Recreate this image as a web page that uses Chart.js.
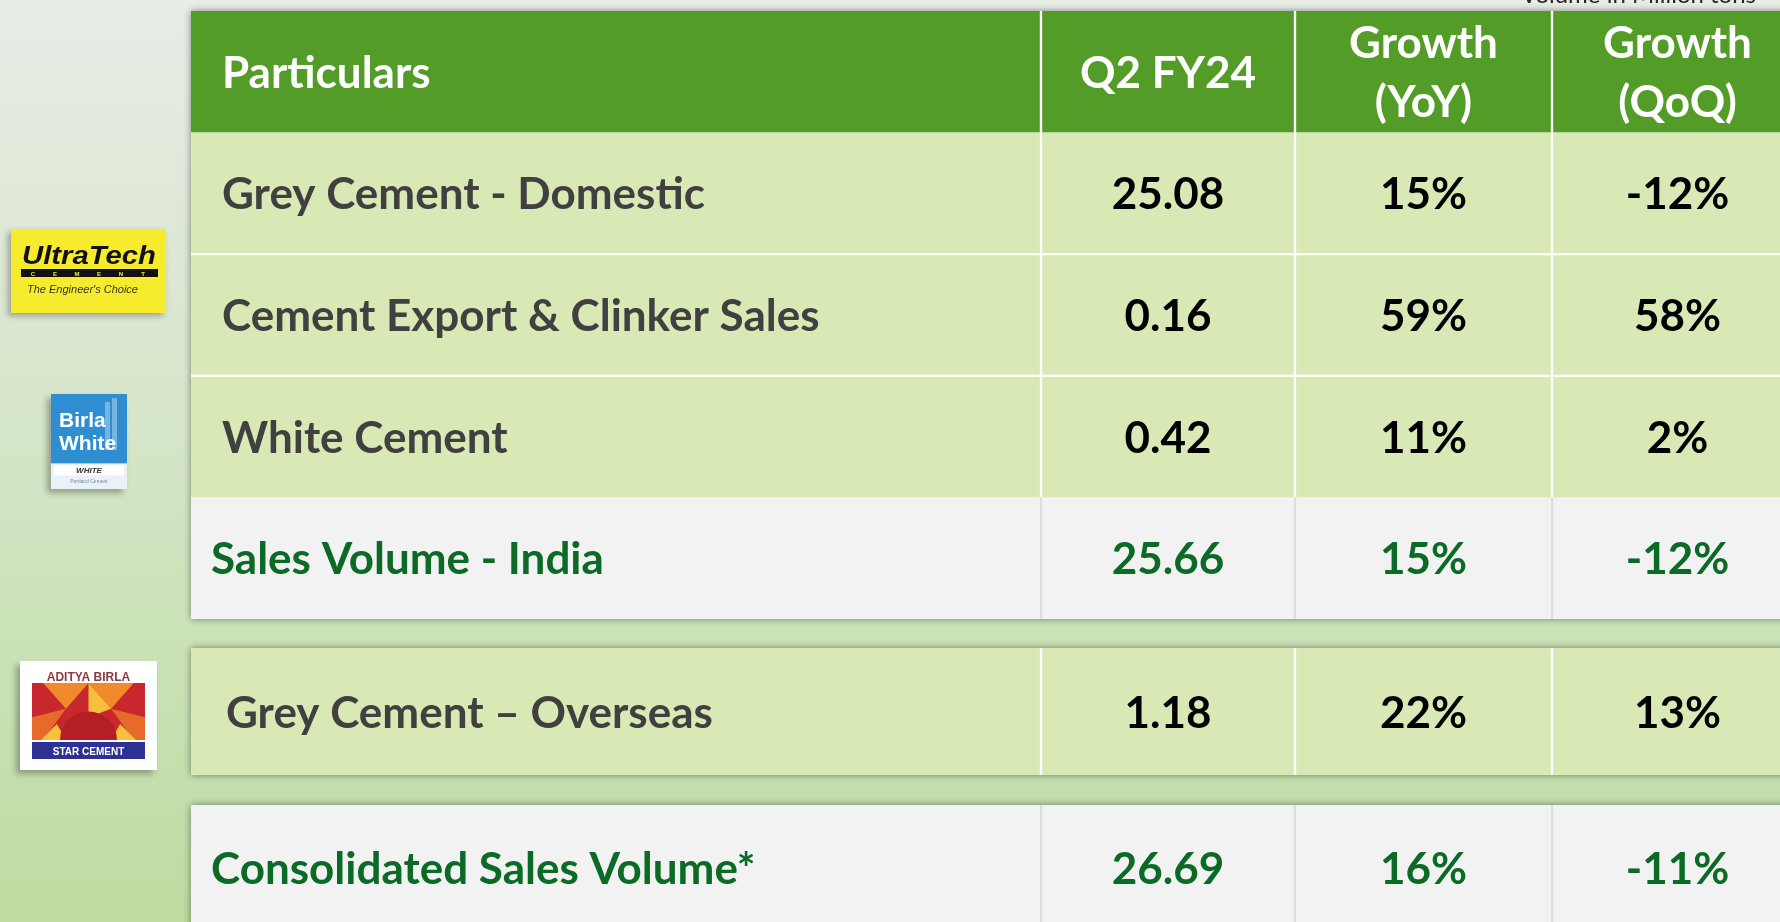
<!DOCTYPE html>
<html>
<head>
<meta charset="utf-8">
<title>Sales Volume - Q2 FY24</title>
<script src="https://cdn.jsdelivr.net/npm/chart.js@4.4.1/dist/chart.umd.min.js"></script>
<style>
    html, body {
        margin: 0;
        padding: 0;
        width: 1780px;
        height: 922px;
        overflow: hidden;
    }
    body {
        background: linear-gradient(180deg, #E8EDE6 0%, #DFE8D8 22%, #D4E5C6 50%, #C9E1B3 75%, #BEDBA0 100%);
    }
    #wrap {
        position: absolute;
        left: 0;
        top: 0;
        width: 1803px;
        height: 931px;
    }
</style>
</head>
<body>
<div id="wrap"><canvas id="volume-table"></canvas></div>
<script>
// Table data
const columns = ["Particulars", "Q2 FY24", "Growth\n(YoY)", "Growth\n(QoQ)"];
const particulars = [
    "Grey Cement - Domestic",
    "Cement Export & Clinker Sales",
    "White Cement",
    "Sales Volume - India",
    "Grey Cement \u2013 Overseas",
    "Consolidated Sales Volume*",
];
const volumeQ2FY24 = [25.08, 0.16, 0.42, 25.66, 1.18, 26.69];
const growthYoY = [15, 59, 11, 15, 22, 16];
const growthQoQ = [-12, 58, 2, -12, 13, -11];
const unitNote = "Volume in Million tons";

// Layout and styles (row 0 is the header row)
const colWidths = [850, 254, 257, 251];
const colEdges = colWidths.reduce((acc, w) => acc.concat(acc[acc.length - 1] + w), [0]);
const sections = [
    { id: "yTop", rows: [0, 1, 2, 3, 4], weight: 608 },
    { id: "yGap1", rows: [], weight: 29 },
    { id: "yMid", rows: [5], weight: 127 },
    { id: "yGap2", rows: [], weight: 30 },
    { id: "yBot", rows: [6], weight: 126 },
];
const rowFill = ["#549C28", "#D9E9B6", "#D9E9B6", "#D9E9B6", "#F2F2F2", "#D9E9B6", "#F2F2F2"];
const rowLine = ["#FFFFFF", "#FFFFFF", "#FFFFFF", "#FFFFFF", "#D3D3D3", "#FFFFFF", "#D3D3D3"];
const labelColor = ["#FFFFFF", "#404040", "#404040", "#404040", "#0B6A25", "#404040", "#0B6A25"];
const valueColor = ["#FFFFFF", "#000000", "#000000", "#000000", "#0B6A25", "#000000", "#0B6A25"];
const labelInset = [31, 31, 31, 31, 20, 35, 20];
const lineTop = [0, 0, 1.5, 1.5, 0, 0, 0];
const lineBottom = [0, 1.5, 1.5, 0, 0, 0, 0];
const fontPx = 44;
const fontFamily = "Lato, 'Noto Sans', sans-serif";

function cellLines(r, c) {
    if (r === 0) return columns[c].split("\n");
    const i = r - 1;
    if (c === 0) return [particulars[i]];
    if (c === 1) return [volumeQ2FY24[i].toFixed(2)];
    if (c === 2) return [growthYoY[i] + "%"];
    return [growthQoQ[i] + "%"];
}

// One floating bar per cell, one dataset per column and section
const datasets = [];
sections.filter((s) => s.rows.length).forEach((s) => {
    columns.forEach((col, c) => {
        datasets.push({
            label: col.replace("\n", " "),
            yAxisID: s.id,
            rows: s.rows,
            col: c,
            data: s.rows.map(() => [colEdges[c], colEdges[c + 1]]),
            grouped: false,
            barPercentage: 1,
            categoryPercentage: 1,
            borderSkipped: false,
            backgroundColor: (ctx) => rowFill[s.rows[ctx.dataIndex]],
            borderColor: (ctx) => rowLine[s.rows[ctx.dataIndex]],
            borderWidth: (ctx) => {
                const r = s.rows[ctx.dataIndex];
                const v = r === 4 || r === 6 ? 1 : 1.5;
                return { left: c > 0 ? v : 0, right: c < 3 ? v : 0, top: lineTop[r], bottom: lineBottom[r] };
            },
        });
    });
});

const scales = { x: { type: "linear", min: 0, max: colEdges[colEdges.length - 1], display: false } };
sections.forEach((s, k) => {
    const common = { position: "left", stack: "table", stackWeight: s.weight, weight: sections.length - k, display: false };
    scales[s.id] = s.rows.length
        ? { ...common, type: "category", offset: true, labels: s.rows.map((r) => (r === 0 ? "Particulars" : particulars[r - 1])) }
        : { ...common, type: "linear", axis: "y", min: 0, max: 1 };
});

// Shadow under each block of rows
const panelShadow = {
    id: "panelShadow",
    beforeDatasetsDraw(chart) {
        const { ctx } = chart;
        const x = chart.scales.x;
        ctx.save();
        ctx.shadowColor = "rgba(0,0,0,0.45)";
        ctx.shadowBlur = 7;
        ctx.fillStyle = "#F2F2F2";
        sections.filter((s) => s.rows.length).forEach((s) => {
            const y = chart.scales[s.id];
            ctx.fillRect(x.left, y.top, x.right - x.left, y.bottom - y.top);
        });
        ctx.restore();
    },
};

// Texts inside the cells
const cellText = {
    id: "cellText",
    afterDatasetsDraw(chart) {
        const { ctx } = chart;
        ctx.save();
        ctx.font = `bold ${fontPx}px ${fontFamily}`;
        const capH = ctx.measureText("H").actualBoundingBoxAscent;
        const lineGap = fontPx * 1.34;
        chart.data.datasets.forEach((ds, i) => {
            chart.getDatasetMeta(i).data.forEach((bar, j) => {
                const r = ds.rows[j];
                const c = ds.col;
                const { x, y, base } = bar.getProps(["x", "y", "base"], true);
                const lines = cellLines(r, c);
                ctx.fillStyle = c === 0 ? labelColor[r] : valueColor[r];
                ctx.textAlign = c === 0 ? "left" : "center";
                const tx = c === 0 ? base + labelInset[r] : (base + x) / 2;
                lines.forEach((line, k) => {
                    const cy = y + (k - (lines.length - 1) / 2) * lineGap;
                    ctx.fillText(line, tx, cy + capH / 2);
                });
            });
        });
        ctx.restore();
    },
};

// Company logos and the unit note
function drawUltraTech(ctx, x, y, w, h) {
    ctx.save();
    ctx.shadowColor = "rgba(0,0,0,0.3)";
    ctx.shadowBlur = 6;
    ctx.shadowOffsetX = -3;
    ctx.shadowOffsetY = 3;
    ctx.fillStyle = "#F7EB2E";
    ctx.fillRect(x, y, w, h);
    ctx.restore();
    ctx.save();
    ctx.fillStyle = "#111111";
    ctx.font = "italic bold 26px 'Liberation Sans', sans-serif";
    const tw = ctx.measureText("UltraTech").width;
    ctx.translate(x + 11, y + 35);
    ctx.scale(134 / tw, 1);
    ctx.fillText("UltraTech", 0, 0);
    ctx.restore();
    ctx.save();
    ctx.fillStyle = "#111111";
    ctx.fillRect(x + 10, y + 40, 137, 8);
    ctx.fillStyle = "#F7EB2E";
    ctx.font = "bold 6px 'Liberation Sans', sans-serif";
    ctx.textAlign = "center";
    "CEMENT".split("").forEach((ch, k) => ctx.fillText(ch, x + 22 + k * 22, y + 46.5));
    ctx.fillStyle = "#333333";
    ctx.font = "italic 11px 'Liberation Sans', sans-serif";
    ctx.textAlign = "left";
    ctx.fillText("The Engineer's Choice", x + 16, y + 64);
    ctx.restore();
}

function drawBirlaWhite(ctx, x, y, w, h) {
    ctx.save();
    ctx.shadowColor = "rgba(0,0,0,0.3)";
    ctx.shadowBlur = 6;
    ctx.shadowOffsetX = -4;
    ctx.shadowOffsetY = 4;
    ctx.fillStyle = "#EAF2F8";
    ctx.fillRect(x, y, w, h);
    ctx.restore();
    ctx.save();
    ctx.fillStyle = "#2F8ED2";
    ctx.fillRect(x, y, w, h * 0.73);
    ctx.fillStyle = "rgba(255,255,255,0.35)";
    ctx.fillRect(x + w - 22, y + 8, 5, 48);
    ctx.fillRect(x + w - 15, y + 4, 5, 52);
    ctx.fillStyle = "#FFFFFF";
    ctx.font = "bold 21px 'Liberation Sans Narrow', 'Liberation Sans', sans-serif";
    ctx.fillText("Birla", x + 8, y + 33);
    ctx.fillText("White", x + 8, y + 56);
    ctx.fillStyle = "#FFFFFF";
    ctx.fillRect(x + 3, y + h * 0.73 + 2, w - 6, 10);
    ctx.fillStyle = "#333333";
    ctx.font = "italic bold 8px 'Liberation Sans', sans-serif";
    ctx.textAlign = "center";
    ctx.fillText("WHITE", x + w / 2, y + h * 0.73 + 10);
    ctx.fillStyle = "#6A8FA8";
    ctx.font = "5px 'Liberation Sans', sans-serif";
    ctx.fillText("Portland Cement", x + w / 2, y + h - 6);
    ctx.restore();
}

function drawAdityaBirla(ctx, x, y, w, h) {
    ctx.save();
    ctx.shadowColor = "rgba(0,0,0,0.3)";
    ctx.shadowBlur = 6;
    ctx.shadowOffsetX = -4;
    ctx.shadowOffsetY = 4;
    ctx.fillStyle = "#FFFFFF";
    ctx.fillRect(x, y, w, h);
    ctx.restore();
    ctx.save();
    ctx.fillStyle = "#8E3B3B";
    ctx.font = "bold 12px 'Liberation Sans', sans-serif";
    ctx.textAlign = "center";
    ctx.fillText("ADITYA BIRLA", x + w / 2, y + 20);
    const gx = x + 12, gy = y + 22, gw = w - 24, gh = 57;
    ctx.fillStyle = "#C8282D";
    ctx.fillRect(gx, gy, gw, gh);
    const tri = (pts, color) => {
        ctx.fillStyle = color;
        ctx.beginPath();
        ctx.moveTo(gx + pts[0][0] * gw, gy + pts[0][1] * gh);
        pts.slice(1).forEach((p) => ctx.lineTo(gx + p[0] * gw, gy + p[1] * gh));
        ctx.closePath();
        ctx.fill();
    };
    tri([[0.1, 0], [0.5, 0], [0.3, 0.45]], "#F08A2B");
    tri([[0.5, 0], [0.9, 0], [0.7, 0.45]], "#F08A2B");
    tri([[0.5, 0], [0.7, 0.45], [0.5, 0.6]], "#F6C03A");
    tri([[0, 0.6], [0.3, 0.45], [0.1, 1], [0, 1]], "#E76A2A");
    tri([[1, 0.6], [0.7, 0.45], [0.9, 1], [1, 1]], "#E76A2A");
    tri([[0.08, 1], [0.22, 0.72], [0.3, 1]], "#F6C03A");
    tri([[0.92, 1], [0.78, 0.72], [0.7, 1]], "#F6C03A");
    ctx.fillStyle = "#B41E24";
    ctx.beginPath();
    ctx.arc(gx + gw / 2, gy + gh, gh * 0.5, Math.PI, 0);
    ctx.fill();
    ctx.fillStyle = "#2E3192";
    ctx.fillRect(gx, gy + gh + 2, gw, 17);
    ctx.fillStyle = "#FFFFFF";
    ctx.font = "bold 10px 'Liberation Sans', sans-serif";
    ctx.fillText("STAR CEMENT", x + w / 2, gy + gh + 15);
    ctx.restore();
}

const decorations = {
    id: "decorations",
    afterDraw(chart) {
        const { ctx } = chart;
        drawUltraTech(ctx, 11, 229, 155, 84);
        drawBirlaWhite(ctx, 51, 394, 76, 95);
        drawAdityaBirla(ctx, 20, 661, 137, 109);
        ctx.save();
        ctx.fillStyle = "#262626";
        ctx.font = `24px ${fontFamily}`;
        ctx.fillText(unitNote, 1521, 3);
        ctx.restore();
    },
};

new Chart(document.getElementById("volume-table"), {
    type: "bar",
    data: {
        labels: particulars,
        datasets: datasets,
    },
    options: {
        indexAxis: "y",
        responsive: true,
        maintainAspectRatio: false,
        animation: false,
        layout: { padding: { left: 191, top: 11, right: 0, bottom: 0 } },
        scales: scales,
        plugins: {
            legend: { display: false },
            tooltip: { enabled: false },
        },
    },
    plugins: [panelShadow, cellText, decorations],
});
</script>
</body>
</html>
